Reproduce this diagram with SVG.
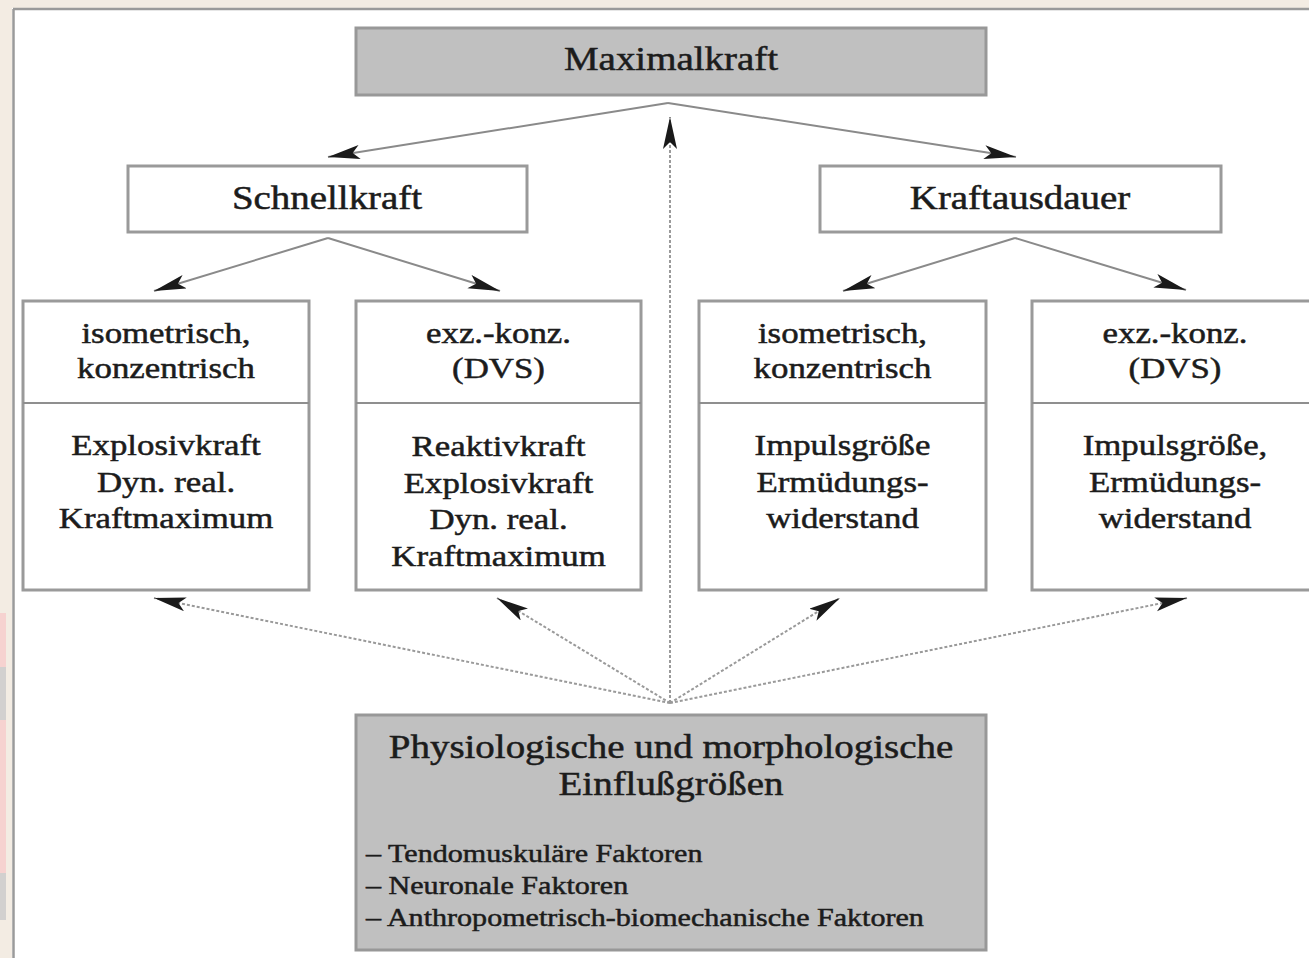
<svg xmlns="http://www.w3.org/2000/svg" width="1309" height="958" viewBox="0 0 1309 958">
  <defs>
    <marker id="ah" markerUnits="userSpaceOnUse" markerWidth="34" markerHeight="16" refX="32" refY="7" orient="auto">
      <path d="M0,0 L32,7 L0,14 L7,7 Z" fill="#1a1a1a"/>
    </marker>
    <style>
      .box { fill: #ffffff; stroke: #9a9a9a; stroke-width: 3; }
      .gbox { fill: #c0c0c0; stroke: #989898; stroke-width: 3; }
      .div { stroke: #8f8f8f; stroke-width: 2; }
      .t { font-family: "Liberation Serif", "Times New Roman", serif; fill: #1c1c1c; stroke: #1c1c1c; stroke-width: 0.5; text-anchor: middle; }
      .h { font-size: 33px; }
      .b { font-size: 29.5px; }
      .l { font-size: 25.5px; text-anchor: start; }
      .solid { stroke: #8a8a8a; stroke-width: 2; fill: none; marker-end: url(#ah); }
      .dot { stroke: #9a9a9a; stroke-width: 2; stroke-dasharray: 3 2; fill: none; marker-end: url(#ah); }
    </style>
  </defs>

  <!-- page background and frame -->
  <rect x="0" y="0" width="1309" height="958" fill="#ffffff"/>
  <rect x="0" y="0" width="1309" height="8" fill="#f3ece3"/>
  <rect x="0" y="0" width="12" height="958" fill="#f3ece3"/>
  <rect x="0" y="613" width="6" height="54" fill="#f6d2d0"/>
  <rect x="0" y="667" width="6" height="53" fill="#d2d0cf"/>
  <rect x="0" y="720" width="6" height="153" fill="#f6d2d0"/>
  <rect x="0" y="873" width="6" height="47" fill="#d2d0cf"/>
  <line x1="13" y1="9" x2="1309" y2="9" stroke="#9a9a9a" stroke-width="2.5"/>
  <line x1="13.5" y1="9" x2="13.5" y2="958" stroke="#9a9a9a" stroke-width="2.5"/>

  <!-- connectors -->
  <g id="connectors">
    <polyline class="solid" points="668,103 328,157"/>
    <polyline class="solid" points="668,103 1016,157"/>
    <polyline class="solid" points="328,238 154,291"/>
    <polyline class="solid" points="328,238 500,291"/>
    <polyline class="solid" points="1015,238 843,291"/>
    <polyline class="solid" points="1015,238 1186,290"/>
    <line class="dot" x1="670" y1="703" x2="670" y2="117"/>
    <line class="dot" x1="670" y1="703" x2="154" y2="598"/>
    <line class="dot" x1="670" y1="703" x2="497" y2="598"/>
    <line class="dot" x1="670" y1="703" x2="840" y2="598"/>
    <line class="dot" x1="670" y1="703" x2="1187" y2="598"/>
  </g>

  <g id="maximalkraft">
    <rect class="gbox" x="356" y="28" width="630" height="67"/>
    <text class="t h" transform="translate(671 0) scale(1.18 1)" x="0" y="70">Maximalkraft</text>
  </g>

  <g id="schnellkraft">
    <rect class="box" x="128" y="166" width="399" height="66"/>
    <text class="t h" transform="translate(327 0) scale(1.18 1)" x="0" y="209">Schnellkraft</text>
  </g>

  <g id="kraftausdauer">
    <rect class="box" x="820" y="166" width="401" height="66"/>
    <text class="t h" transform="translate(1020 0) scale(1.18 1)" x="0" y="209">Kraftausdauer</text>
  </g>

  <g id="box1">
    <rect class="box" x="23" y="301" width="286" height="289"/>
    <line class="div" x1="23" y1="403" x2="309" y2="403"/>
    <g transform="translate(166 0) scale(1.18 1)">
      <text class="t b" x="0" y="343">isometrisch,</text>
      <text class="t b" x="0" y="378">konzentrisch</text>
      <text class="t b" x="0" y="455">Explosivkraft</text>
      <text class="t b" x="0" y="492">Dyn. real.</text>
      <text class="t b" x="0" y="528">Kraftmaximum</text>
    </g>
  </g>

  <g id="box2">
    <rect class="box" x="356" y="301" width="285" height="289"/>
    <line class="div" x1="356" y1="403" x2="641" y2="403"/>
    <g transform="translate(498.5 0) scale(1.18 1)">
      <text class="t b" x="0" y="343">exz.-konz.</text>
      <text class="t b" x="0" y="378">(DVS)</text>
      <text class="t b" x="0" y="456">Reaktivkraft</text>
      <text class="t b" x="0" y="493">Explosivkraft</text>
      <text class="t b" x="0" y="529">Dyn. real.</text>
      <text class="t b" x="0" y="566">Kraftmaximum</text>
    </g>
  </g>

  <g id="box3">
    <rect class="box" x="699" y="301" width="287" height="289"/>
    <line class="div" x1="699" y1="403" x2="986" y2="403"/>
    <g transform="translate(842.5 0) scale(1.18 1)">
      <text class="t b" x="0" y="343">isometrisch,</text>
      <text class="t b" x="0" y="378">konzentrisch</text>
      <text class="t b" x="0" y="455">Impulsgröße</text>
      <text class="t b" x="0" y="492">Ermüdungs-</text>
      <text class="t b" x="0" y="528">widerstand</text>
    </g>
  </g>

  <g id="box4">
    <rect class="box" x="1032" y="301" width="287" height="289"/>
    <line class="div" x1="1032" y1="403" x2="1319" y2="403"/>
    <g transform="translate(1175 0) scale(1.18 1)">
      <text class="t b" x="0" y="343">exz.-konz.</text>
      <text class="t b" x="0" y="378">(DVS)</text>
      <text class="t b" x="0" y="455">Impulsgröße,</text>
      <text class="t b" x="0" y="492">Ermüdungs-</text>
      <text class="t b" x="0" y="528">widerstand</text>
    </g>
  </g>

  <g id="einflussgroessen">
    <rect class="gbox" x="356" y="715" width="630" height="235"/>
    <g transform="translate(671 0) scale(1.18 1)">
      <text class="t h" x="0" y="758">Physiologische und morphologische</text>
      <text class="t h" x="0" y="795">Einflußgrößen</text>
    </g>
    <g transform="translate(366 0) scale(1.18 1)">
      <text class="t l" x="0" y="862">– Tendomuskuläre Faktoren</text>
      <text class="t l" x="0" y="894">– Neuronale Faktoren</text>
      <text class="t l" x="0" y="926">– Anthropometrisch-biomechanische Faktoren</text>
    </g>
  </g>
</svg>
